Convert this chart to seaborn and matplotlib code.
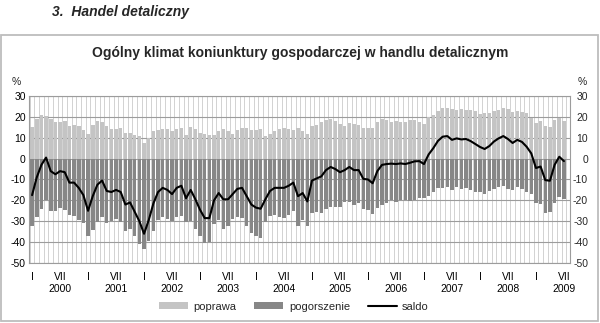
import numpy as np
import pandas as pd
import matplotlib
matplotlib.use("Agg")
import matplotlib.pyplot as plt
from matplotlib.patches import Patch, Rectangle
from matplotlib.lines import Line2D
import seaborn as sns

# Monthly survey results, January 2000 - July 2009 (percent of answers)
years = list(range(2000, 2010))

poprawa = [
    15, 19, 21, 20.5, 19, 17.5, 17.5, 18, 15.5, 16, 15.5, 13.5,
    12, 16, 18, 17.5, 15.5, 14, 14, 14.5, 12.5, 12.5, 11.5, 11,
    7.5, 10, 13, 13.5, 14, 14, 13, 14, 14.5, 11.5, 15, 14,
    12.5, 12, 11.5, 11.5, 13, 14, 13, 12, 13.5, 14.5, 14.5, 13.5,
    13.5, 14, 11, 12, 13, 14, 14.5, 14, 13.5, 14.5, 13, 12,
    15.5, 16, 17.5, 18.5, 19, 18, 16.5, 15.5, 17, 16.5, 16, 14.5,
    14.5, 14.5, 17.5, 19, 18.5, 17.5, 18, 17.7, 17.4, 18.5, 18.5, 17.7,
    16.4, 20, 20.9, 22.8, 24.4, 24.4, 23.8, 23.5, 23.8, 23.5, 23.3, 22.8,
    21.4, 21.7, 21.7, 22.8, 23.3, 24.1, 23.8, 22.5, 22.8, 22.5, 21.7, 19.6,
    16.9, 18, 15.6, 15, 18.5, 19.3, 18.2,
]

pogorszenie = [
    -32.5, -28, -24, -20, -25, -25, -23.5, -24.5, -27, -27.5, -29.5, -31,
    -37, -34, -30.5, -28, -31, -30, -29, -30.5, -34.5, -33.5, -37, -41,
    -43.5, -39.5, -34.5, -29.5, -28, -29, -30, -28, -27.5, -30.5, -30, -33.5,
    -37, -40.5, -40, -31.5, -29.5, -33.5, -32.5, -29, -28, -28.5, -32.5, -35.5,
    -37, -38, -30.5, -27.5, -27, -28, -28.5, -27, -25, -32.5, -29.5, -32.5,
    -26, -25.5, -26, -24, -23, -23, -23, -21, -21, -22, -21.5, -24.2,
    -24.5, -26.3, -23.5, -22, -21.1, -19.9, -20.6, -20, -20, -20.5, -19.8, -18.9,
    -19, -18, -15.9, -14.3, -13.9, -13.6, -14.8, -13.8, -14.6, -14.1, -14.9, -15.8,
    -15.8, -17.1, -15.7, -14.6, -13.6, -13.3, -14.4, -15, -13.8, -14.5, -16, -17.1,
    -21.4, -21.8, -25.9, -25.6, -21.5, -18.4, -19.4,
]

saldo = [
    -17.5, -9, -3, 0.5, -6, -7.5, -6, -6.5, -11.5, -11.5, -14, -17.5,
    -25, -18, -12.5, -10.5, -15.5, -16, -15, -16, -22, -21, -25.5, -30,
    -36, -29.5, -21.5, -16, -14, -15, -17, -14, -13, -19, -15, -19.5,
    -24.5, -28.5, -28.5, -20, -16.5, -19.5, -19.5, -17, -14.5, -14, -18, -22,
    -23.5, -24, -19.5, -15.5, -14, -14, -14, -13, -11.5, -18, -16.5, -20.5,
    -10.5, -9.5, -8.5, -5.5, -4, -5, -6.5, -5.5, -4, -5.5, -5.5, -9.7,
    -10, -11.8, -6, -3, -2.6, -2.4, -2.6, -2.3, -2.6, -2, -1.3, -1.2,
    -2.6, 2, 5, 8.5, 10.5, 10.8, 9, 9.7, 9.2, 9.4, 8.4, 7,
    5.6, 4.6, 6, 8.2, 9.7, 10.8, 9.4, 7.5, 9, 8, 5.7, 2.5,
    -4.5, -3.8, -10.3, -10.6, -3, 0.9, -1.2,
]

y_ticks = list(range(-50, 31, 10))

LIGHT = "#c4c4c4"
DARK = "#878787"
GRID_H = "#9c9c9c"
GRID_V = "#d2d2d2"

n = len(saldo)
df = pd.DataFrame({
    "miesiac": np.arange(n),
    "poprawa": poprawa,
    "pogorszenie": pogorszenie,
    "saldo": saldo,
})

# month tick labels: "I" for January, "VII" plus year for July
tick_pos, tick_lab = [], []
for i, yr in enumerate(years):
    for off, name in ((0, "I"), (6, "VII\n" + str(yr))):
        idx = 12 * i + off
        if idx < n:
            tick_pos.append(idx)
            tick_lab.append(name)

sns.set_style("white")
plt.rcParams["font.family"] = ["Liberation Sans", "DejaVu Sans"]

fig = plt.figure(figsize=(6.0, 3.23), dpi=100)
ax = fig.add_axes([0.0488, 0.1858, 0.9012, 0.5170])

sns.barplot(data=df, x="miesiac", y="poprawa", color=LIGHT, saturation=1,
            width=0.76, errorbar=None, linewidth=0, ax=ax, zorder=2)
sns.barplot(data=df, x="miesiac", y="pogorszenie", color=DARK, saturation=1,
            width=0.76, errorbar=None, linewidth=0, ax=ax, zorder=2)
sns.lineplot(data=df, x="miesiac", y="saldo", color="black", linewidth=1.5,
             ax=ax, zorder=4)

ax.set_xlim(-0.6, n + 0.3)
ax.set_ylim(-50, 30)
ax.set_yticks(y_ticks)
ax.set_yticklabels([str(v) for v in y_ticks])
ax.set_xticks(tick_pos)
ax.set_xticklabels(tick_lab, linespacing=1.25)
ax.set_xticks(np.arange(n + 1) - 0.5, minor=True)
ax.set_xlabel("")
ax.set_ylabel("")

ax.set_axisbelow(True)
ax.yaxis.grid(True, color=GRID_H, linewidth=0.8)
ax.xaxis.grid(True, which="minor", color=GRID_V, linewidth=0.7)
ax.xaxis.grid(False, which="major")
for sp in ax.spines.values():
    sp.set_visible(True)
    sp.set_color(GRID_H)
    sp.set_linewidth(0.8)

ax.tick_params(axis="both", which="both", length=0, labelsize=7.5, colors="black")
ax.tick_params(axis="x", pad=6.5)
ax.tick_params(axis="y", pad=2.5)

# mirrored value axis on the right
ax2 = ax.twinx()
ax2.set_ylim(-50, 30)
ax2.set_yticks(y_ticks)
ax2.set_yticklabels([str(v) for v in y_ticks])
ax2.tick_params(axis="y", length=0, labelsize=7.5, pad=13)
for lab in ax2.get_yticklabels():
    lab.set_horizontalalignment("right")
for sp in ax2.spines.values():
    sp.set_visible(False)

fig.text(0.0347, 0.745, "%", fontsize=7.5, ha="right", va="center")
fig.text(0.978, 0.745, "%", fontsize=7.5, ha="right", va="center")

fig.text(0.5, 0.836, "Ogólny klimat koniunktury gospodarczej w handlu detalicznym",
         ha="center", va="center", fontsize=10, fontweight="bold")
fig.text(0.087, 0.962, "3.  Handel detaliczny", ha="left", va="center",
         fontsize=10, fontweight="bold", fontstyle="italic")

fig.patches.append(Rectangle((0.002, 0.006), 0.995, 0.886, transform=fig.transFigure,
                             fill=False, edgecolor="#bdbdbd", linewidth=1.3))

handles = [
    Patch(facecolor=LIGHT, edgecolor="none", label="poprawa"),
    Patch(facecolor=DARK, edgecolor="none", label="pogorszenie"),
    Line2D([0], [0], color="black", linewidth=1.5, label="saldo"),
]
fig.legend(handles=handles, loc="center", bbox_to_anchor=(0.49, 0.051), ncol=3,
           frameon=False, fontsize=8, handlelength=2.6, handleheight=0.55,
           handletextpad=0.5, columnspacing=1.6)

fig.savefig("out.png", dpi=100)
